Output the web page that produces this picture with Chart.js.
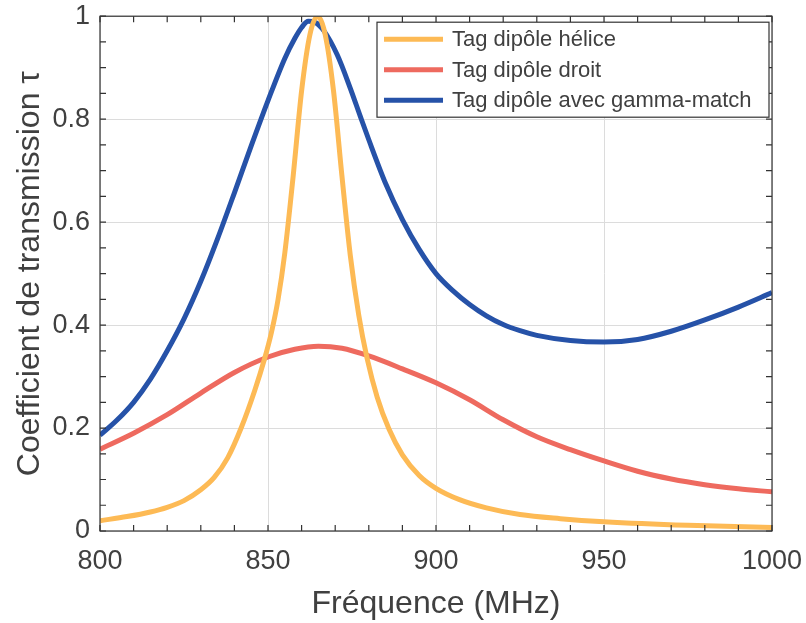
<!DOCTYPE html>
<html>
<head>
<meta charset="utf-8">
<script src="https://cdn.jsdelivr.net/npm/chart.js@4/dist/chart.umd.min.js"></script>
<style>
  html, body { margin: 0; padding: 0; background: #fff; }
  #wrap { width: 806px; height: 623px; }
</style>
</head>
<body>
<div id="wrap"><canvas id="tauChart" width="806" height="623"></canvas></div>
<script>
// Tag dipôle hélice
const helFreq = [800, 808, 815, 820, 825, 830, 834, 838, 842, 846, 849, 851, 853, 855, 857.5, 860, 862.5, 864.8, 867, 869.5, 872, 874.5, 877, 879.5, 882.5, 886, 890, 895, 900, 907, 915, 925, 937, 950, 975, 1000];
const helTau  = [0.02, 0.028, 0.037, 0.046, 0.059, 0.08, 0.104, 0.142, 0.2, 0.272, 0.335, 0.385, 0.45, 0.54, 0.69, 0.855, 0.965, 1.0, 0.965, 0.855, 0.69, 0.535, 0.42, 0.335, 0.26, 0.198, 0.148, 0.108, 0.083, 0.061, 0.045, 0.032, 0.024, 0.018, 0.011, 0.007];

// Tag dipôle droit
const droitFreq = [800, 810, 820, 830, 840, 850, 858, 865, 872, 880, 890, 900, 910, 920, 930, 940, 950, 960, 970, 980, 990, 1000];
const droitTau  = [0.159, 0.19, 0.226, 0.268, 0.308, 0.338, 0.353, 0.359, 0.355, 0.34, 0.315, 0.288, 0.255, 0.216, 0.183, 0.158, 0.136, 0.116, 0.101, 0.09, 0.082, 0.076];

// Tag dipôle avec gamma-match
const gammaFreq = [800, 805, 810, 815, 820, 825, 830, 835, 840, 845, 850, 855, 858, 860, 862, 864, 866.6, 870.6, 874.5, 877.5, 880, 885, 890, 895, 900, 905, 910, 915, 920, 925, 930, 940, 950, 960, 970, 980, 990, 1000];
const gammaTau  = [0.186, 0.215, 0.25, 0.295, 0.35, 0.412, 0.485, 0.568, 0.657, 0.748, 0.836, 0.918, 0.957, 0.978, 0.99, 0.988, 0.972, 0.925, 0.86, 0.805, 0.76, 0.675, 0.605, 0.547, 0.5, 0.467, 0.44, 0.418, 0.401, 0.389, 0.38, 0.37, 0.367, 0.372, 0.388, 0.41, 0.435, 0.463];

const seriesLabels = ['Tag dipôle hélice', 'Tag dipôle droit', 'Tag dipôle avec gamma-match'];
const seriesColors = ['#FDBA55', '#EE6A5F', '#2652A8'];

const toPoints = (xs, ys) => xs.map((x, i) => ({ x: x, y: ys[i] }));

const textColor = '#404040';
const axisColor = '#333333';
const fontFamily = '"Liberation Sans", Arial, sans-serif';

// box on all sides + inward ticks (major & minor), like the original figure
const framePlugin = {
  id: 'frame',
  afterDatasetsDraw(chart) {
    const { ctx, chartArea: a, scales: { x, y } } = chart;
    ctx.save();
    ctx.strokeStyle = axisColor;
    ctx.lineWidth = 1.2;
    ctx.strokeRect(a.left, a.top, a.right - a.left, a.bottom - a.top);
    ctx.beginPath();
    for (let f = 800; f <= 1000; f += 10) {
      const px = x.getPixelForValue(f);
      ctx.moveTo(px, a.bottom); ctx.lineTo(px, a.bottom - 6);
      ctx.moveTo(px, a.top); ctx.lineTo(px, a.top + 6);
    }
    for (let k = 0; k <= 20; k++) {
      const py = y.getPixelForValue(k * 0.05);
      ctx.moveTo(a.left, py); ctx.lineTo(a.left + 6, py);
      ctx.moveTo(a.right, py); ctx.lineTo(a.right - 6, py);
    }
    ctx.stroke();
    ctx.restore();
  }
};

const legendPlugin = {
  id: 'boxLegend',
  afterDraw(chart) {
    const { ctx, chartArea: a } = chart;
    const boxW = 392, boxH = 95;
    const bx = a.right - 3 - boxW, by = a.top + 6;
    ctx.save();
    ctx.fillStyle = '#fff';
    ctx.fillRect(bx, by, boxW, boxH);
    ctx.strokeStyle = axisColor;
    ctx.lineWidth = 1.2;
    ctx.strokeRect(bx, by, boxW, boxH);
    ctx.font = '22px ' + fontFamily;
    ctx.textBaseline = 'middle';
    chart.data.datasets.forEach((ds, i) => {
      const cy = by + 17 + i * 30.5;
      ctx.strokeStyle = ds.borderColor;
      ctx.lineWidth = 5;
      ctx.beginPath();
      ctx.moveTo(bx + 7, cy); ctx.lineTo(bx + 66, cy);
      ctx.stroke();
      ctx.fillStyle = textColor;
      ctx.fillText(ds.label, bx + 75, cy + 1);
    });
    ctx.restore();
  }
};

new Chart(document.getElementById('tauChart'), {
  type: 'line',
  data: {
    datasets: [
      { label: seriesLabels[0], data: toPoints(helFreq, helTau), borderColor: seriesColors[0] },
      { label: seriesLabels[1], data: toPoints(droitFreq, droitTau), borderColor: seriesColors[1] },
      { label: seriesLabels[2], data: toPoints(gammaFreq, gammaTau), borderColor: seriesColors[2] }
    ].map(d => Object.assign(d, {
      borderWidth: 5,
      pointRadius: 0,
      fill: false,
      cubicInterpolationMode: 'monotone'
    }))
  },
  options: {
    responsive: false,
    animation: false,
    layout: { padding: { left: 0, right: 34, top: 16, bottom: 0 } },
    plugins: {
      legend: { display: false },
      tooltip: { enabled: false }
    },
    scales: {
      x: {
        type: 'linear',
        min: 800,
        max: 1000,
        afterFit(scale) { scale.height = 92; },
        ticks: {
          stepSize: 50,
          padding: 0,
          color: textColor,
          font: { family: fontFamily, size: 27 },
          callback: v => String(v)
        },
        // tick marks hidden: tickLength only spaces the labels
        grid: { color: '#dcdcdc', drawTicks: true, tickLength: 14, tickColor: 'rgba(0,0,0,0)' },
        border: { display: false },
        title: {
          display: true,
          text: 'Fréquence (MHz)',
          color: textColor,
          padding: { top: 0, bottom: 0 },
          font: { family: fontFamily, size: 32 }
        }
      },
      y: {
        min: 0,
        max: 1,
        afterFit(scale) { scale.width = 100; },
        ticks: {
          stepSize: 0.2,
          padding: 0,
          color: textColor,
          font: { family: fontFamily, size: 27 },
          callback: v => String(Math.round(v * 10) / 10)
        },
        grid: { color: '#dcdcdc', drawTicks: true, tickLength: 10, tickColor: 'rgba(0,0,0,0)' },
        border: { display: false },
        title: {
          display: true,
          text: 'Coefficient de transmission τ',
          color: textColor,
          padding: { top: 11, bottom: 0 },
          font: { family: fontFamily, size: 32 }
        }
      }
    }
  },
  plugins: [framePlugin, legendPlugin]
});
</script>
</body>
</html>
